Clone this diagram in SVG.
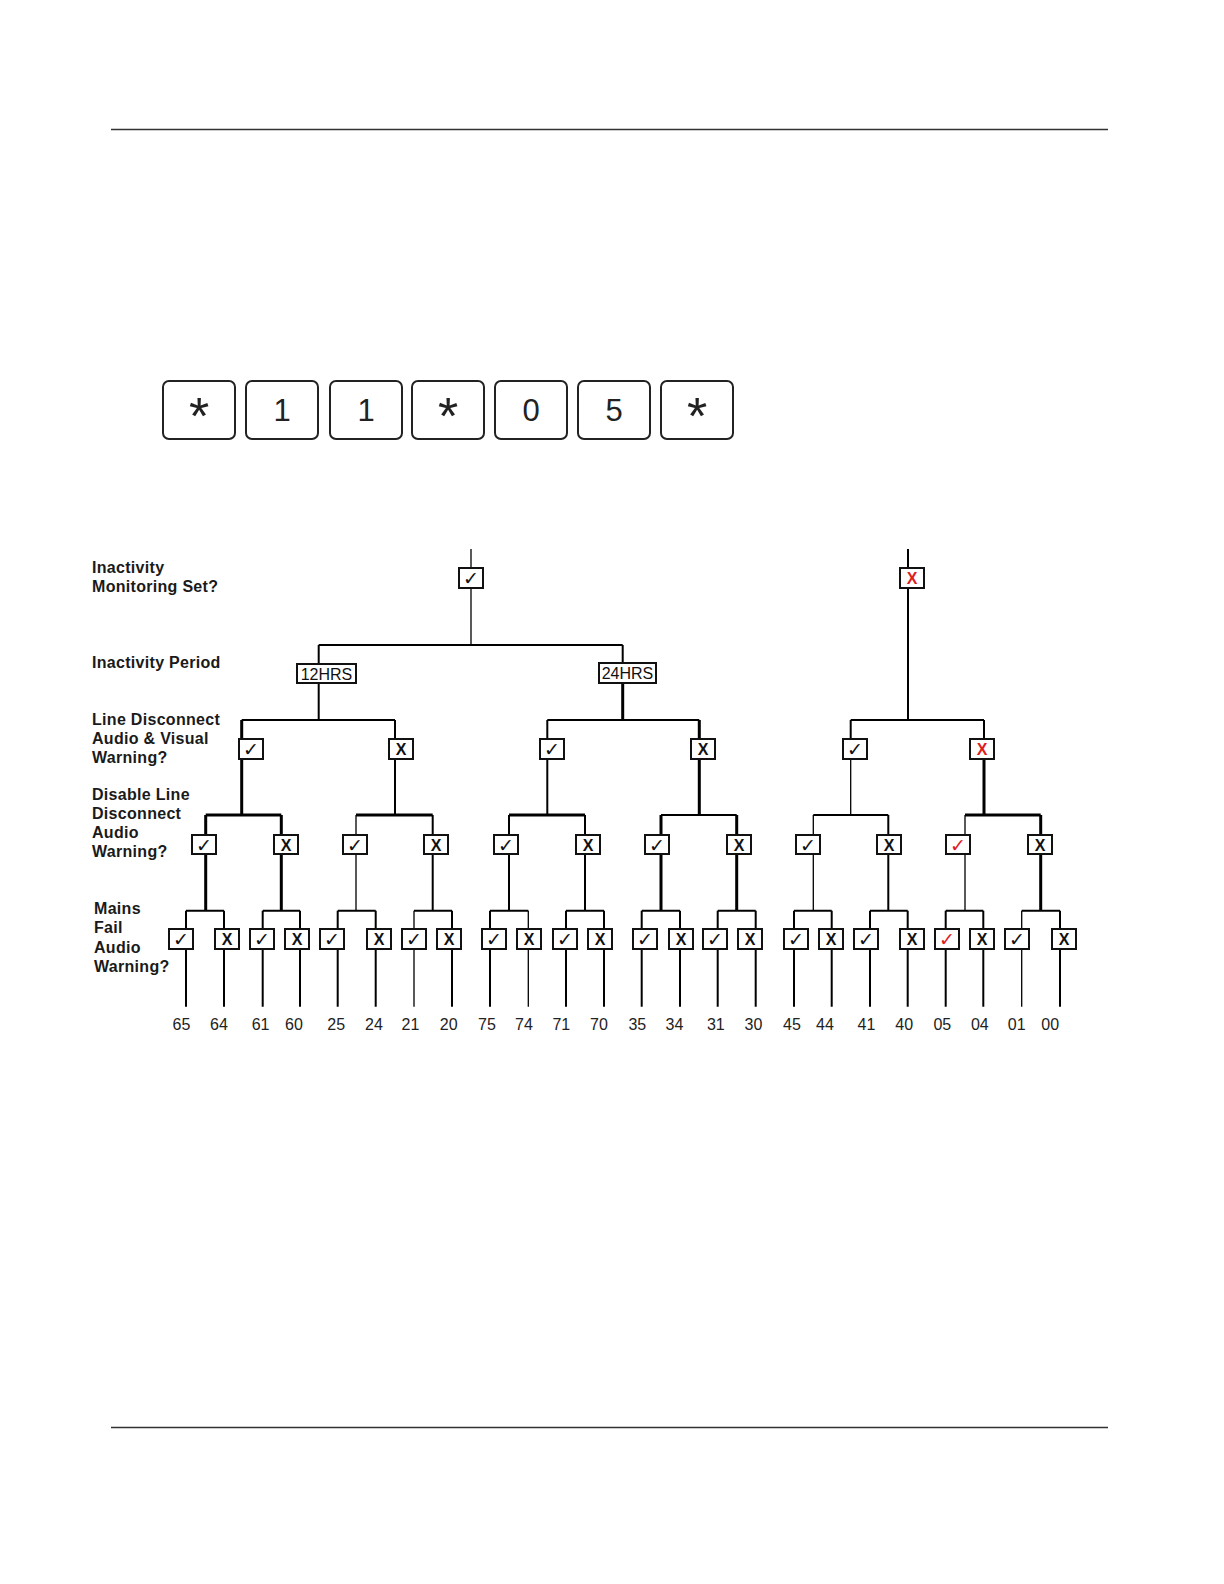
<svg xmlns="http://www.w3.org/2000/svg" width="1224" height="1584" viewBox="0 0 1224 1584">
<style>
.rule{stroke:#333;stroke-width:1.6;fill:none}
.key{fill:#fff;stroke:#222;stroke-width:2}
.kt{font-family:"Liberation Sans",Arial,sans-serif;font-size:31px;fill:#222;text-anchor:middle}
.ks{font-family:"Liberation Sans",Arial,sans-serif;font-size:52px;fill:#222;text-anchor:middle}
.box{fill:#fff;stroke:#111;stroke-width:2}
.ck{font-family:"DejaVu Sans",sans-serif;font-size:19px;fill:#111;text-anchor:middle}
.xx{font-family:"Liberation Sans",Arial,sans-serif;font-weight:bold;font-size:16px;fill:#111;text-anchor:middle}
.red{fill:#e01b22}
.hr{font-family:"Liberation Sans",Arial,sans-serif;font-size:16px;fill:#111;text-anchor:middle}
.lbl{font-family:"Liberation Sans",Arial,sans-serif;font-weight:bold;font-size:16px;fill:#1a1a1a;letter-spacing:0.3px}
.num{font-family:"Liberation Sans",Arial,sans-serif;font-size:16px;fill:#222;text-anchor:middle}
.n{stroke:#000;stroke-width:2;fill:none}
.t{stroke:#000;stroke-width:3;fill:none}
.h{stroke:#000;stroke-width:1.3;fill:none}
</style>

<line class="rule" x1="111" y1="129.5" x2="1108" y2="129.5"/>
<line class="rule" x1="111" y1="1427.5" x2="1108" y2="1427.5"/>

<g id="keypad">
<g id="key1"><rect class="key" x="163" y="381" width="72" height="58" rx="6"/><text class="ks" x="199" y="434">*</text></g>
<g id="key2"><rect class="key" x="246" y="381" width="72" height="58" rx="6"/><text class="kt" x="282" y="421">1</text></g>
<g id="key3"><rect class="key" x="330" y="381" width="72" height="58" rx="6"/><text class="kt" x="366" y="421">1</text></g>
<g id="key4"><rect class="key" x="412" y="381" width="72" height="58" rx="6"/><text class="ks" x="448" y="434">*</text></g>
<g id="key5"><rect class="key" x="495" y="381" width="72" height="58" rx="6"/><text class="kt" x="531" y="421">0</text></g>
<g id="key6"><rect class="key" x="578" y="381" width="72" height="58" rx="6"/><text class="kt" x="614" y="421">5</text></g>
<g id="key7"><rect class="key" x="661" y="381" width="72" height="58" rx="6"/><text class="ks" x="697" y="434">*</text></g>
</g>

<g id="row-labels">
<text class="lbl" x="92" y="573">Inactivity</text>
<text class="lbl" x="92" y="592">Monitoring Set?</text>
<text class="lbl" x="92" y="668">Inactivity Period</text>
<text class="lbl" x="92" y="725">Line Disconnect</text>
<text class="lbl" x="92" y="744">Audio &amp; Visual</text>
<text class="lbl" x="92" y="763">Warning?</text>
<text class="lbl" x="92" y="800">Disable Line</text>
<text class="lbl" x="92" y="819">Disconnect</text>
<text class="lbl" x="92" y="838">Audio</text>
<text class="lbl" x="92" y="857">Warning?</text>
<text class="lbl" x="94" y="914">Mains</text>
<text class="lbl" x="94" y="933">Fail</text>
<text class="lbl" x="94" y="953">Audio</text>
<text class="lbl" x="94" y="972">Warning?</text>
</g>

<g id="connectors">
<path class="h" d="M471 549V645"/>
<path class="n" d="M318.7 645H622.7M318.7 645V720M622.7 645V683"/>
<path class="t" d="M622.7 683V720"/>
<path class="n" d="M241.7 720H395M547.3 720H699.3"/>
<path class="n" d="M908 549V720M850.7 720H984"/>
<path class="t" d="M241.7 720V815M699.3 720V815M984 759V815"/>
<path class="n" d="M395 720V815M547.3 720V815M984 720V759M850.7 720V759"/>
<path class="h" d="M850.7 759V815"/>
<path class="t" d="M205.7 815H281.3M356 815H432.7M509 815H585M965 815H1040.7"/>
<path class="n" d="M661 815H736.7M813.3 815H888.3"/>
<path class="t" d="M205.7 815V910.7M281.3 815V910.7M661 815V910.7M736.7 815V910.7M1040.7 815V910.7"/>
<path class="n" d="M432.7 815V910.7M509 815V910.7M585 815V910.7M888.3 815V910.7"/>
<path class="h" d="M356 815V910.7M813.3 815V910.7M965 815V910.7"/>
<path class="n" d="M186 910.7H224M262.7 910.7H300M337.7 910.7H375.7M414 910.7H452M490 910.7H528.3M566 910.7H604M641.7 910.7H680M717.7 910.7H755.7M794 910.7H831.7M870 910.7H907.7M945.7 910.7H983.3M1021.7 910.7H1060"/>
<path class="n" d="M186 910.7V1006.7M224 910.7V1006.7M262.7 910.7V1006.7M300 910.7V1006.7M337.7 910.7V1006.7M375.7 910.7V1006.7M452 910.7V1006.7M490 910.7V1006.7M566 910.7V1006.7M604 910.7V1006.7M641.7 910.7V1006.7M680 910.7V1006.7M717.7 910.7V1006.7M755.7 910.7V1006.7M794 910.7V1006.7M831.7 910.7V1006.7M870 910.7V1006.7M907.7 910.7V1006.7M945.7 910.7V1006.7M983.3 910.7V1006.7M1060 910.7V1006.7"/>
<path class="h" d="M414 910.7V1006.7M528.3 910.7V1006.7M1021.7 910.7V1006.7"/>
</g>

<g id="level0">
<g id="mon-yes"><rect class="box" x="459" y="568" width="24" height="20"/><text class="ck" x="471" y="585">✓</text></g>
<g id="mon-no"><rect class="box" x="900" y="568" width="24" height="20"/><text class="xx red" x="912" y="584">X</text></g>
</g>

<g id="level1">
<g id="p12"><rect class="box" x="297" y="664" width="59" height="19"/><text class="hr" x="326.5" y="679.5">12HRS</text></g>
<g id="p24"><rect class="box" x="599" y="663" width="57" height="20"/><text class="hr" x="627.5" y="679">24HRS</text></g>
</g>

<g id="level2">
<g id="l2a"><rect class="box" x="239" y="739" width="24" height="20"/><text class="ck" x="251" y="756">✓</text></g>
<g id="l2b"><rect class="box" x="389" y="739" width="24" height="20"/><text class="xx" x="401" y="755">X</text></g>
<g id="l2c"><rect class="box" x="540" y="739" width="24" height="20"/><text class="ck" x="552" y="756">✓</text></g>
<g id="l2d"><rect class="box" x="691" y="739" width="24" height="20"/><text class="xx" x="703" y="755">X</text></g>
<g id="l2e"><rect class="box" x="843" y="739" width="24" height="20"/><text class="ck" x="855" y="756">✓</text></g>
<g id="l2f"><rect class="box" x="970" y="739" width="24" height="20"/><text class="xx red" x="982" y="755">X</text></g>
</g>

<g id="level3">
<g id="l3a"><rect class="box" x="192" y="835" width="24" height="19"/><text class="ck" x="204" y="851.5">✓</text></g>
<g id="l3b"><rect class="box" x="274" y="835" width="24" height="19"/><text class="xx" x="286" y="850.5">X</text></g>
<g id="l3c"><rect class="box" x="343" y="835" width="24" height="19"/><text class="ck" x="355" y="851.5">✓</text></g>
<g id="l3d"><rect class="box" x="424" y="835" width="24" height="19"/><text class="xx" x="436" y="850.5">X</text></g>
<g id="l3e"><rect class="box" x="494" y="835" width="24" height="19"/><text class="ck" x="506" y="851.5">✓</text></g>
<g id="l3f"><rect class="box" x="576" y="835" width="24" height="19"/><text class="xx" x="588" y="850.5">X</text></g>
<g id="l3g"><rect class="box" x="645" y="835" width="24" height="19"/><text class="ck" x="657" y="851.5">✓</text></g>
<g id="l3h"><rect class="box" x="727" y="835" width="24" height="19"/><text class="xx" x="739" y="850.5">X</text></g>
<g id="l3i"><rect class="box" x="796" y="835" width="24" height="19"/><text class="ck" x="808" y="851.5">✓</text></g>
<g id="l3j"><rect class="box" x="877" y="835" width="24" height="19"/><text class="xx" x="889" y="850.5">X</text></g>
<g id="l3k"><rect class="box" x="946" y="835" width="24" height="19"/><text class="ck red" x="958" y="851.5">✓</text></g>
<g id="l3l"><rect class="box" x="1028" y="835" width="24" height="19"/><text class="xx" x="1040" y="850.5">X</text></g>
</g>

<g id="level4">
<g id="c65"><rect class="box" x="169" y="929" width="24" height="20"/><text class="ck" x="181" y="946">✓</text></g>
<g id="c64"><rect class="box" x="215" y="929" width="24" height="20"/><text class="xx" x="227" y="945">X</text></g>
<g id="c61"><rect class="box" x="250" y="929" width="24" height="20"/><text class="ck" x="262" y="946">✓</text></g>
<g id="c60"><rect class="box" x="285" y="929" width="24" height="20"/><text class="xx" x="297" y="945">X</text></g>
<g id="c25"><rect class="box" x="320" y="929" width="24" height="20"/><text class="ck" x="332" y="946">✓</text></g>
<g id="c24"><rect class="box" x="367" y="929" width="24" height="20"/><text class="xx" x="379" y="945">X</text></g>
<g id="c21"><rect class="box" x="402" y="929" width="24" height="20"/><text class="ck" x="414" y="946">✓</text></g>
<g id="c20"><rect class="box" x="437" y="929" width="24" height="20"/><text class="xx" x="449" y="945">X</text></g>
<g id="c75"><rect class="box" x="482" y="929" width="24" height="20"/><text class="ck" x="494" y="946">✓</text></g>
<g id="c74"><rect class="box" x="517" y="929" width="24" height="20"/><text class="xx" x="529" y="945">X</text></g>
<g id="c71"><rect class="box" x="553" y="929" width="24" height="20"/><text class="ck" x="565" y="946">✓</text></g>
<g id="c70"><rect class="box" x="588" y="929" width="24" height="20"/><text class="xx" x="600" y="945">X</text></g>
<g id="c35"><rect class="box" x="633" y="929" width="24" height="20"/><text class="ck" x="645" y="946">✓</text></g>
<g id="c34"><rect class="box" x="669" y="929" width="24" height="20"/><text class="xx" x="681" y="945">X</text></g>
<g id="c31"><rect class="box" x="703" y="929" width="24" height="20"/><text class="ck" x="715" y="946">✓</text></g>
<g id="c30"><rect class="box" x="738" y="929" width="24" height="20"/><text class="xx" x="750" y="945">X</text></g>
<g id="c45"><rect class="box" x="784" y="929" width="24" height="20"/><text class="ck" x="796" y="946">✓</text></g>
<g id="c44"><rect class="box" x="819" y="929" width="24" height="20"/><text class="xx" x="831" y="945">X</text></g>
<g id="c41"><rect class="box" x="854" y="929" width="24" height="20"/><text class="ck" x="866" y="946">✓</text></g>
<g id="c40"><rect class="box" x="900" y="929" width="24" height="20"/><text class="xx" x="912" y="945">X</text></g>
<g id="c05"><rect class="box" x="935" y="929" width="24" height="20"/><text class="ck red" x="947" y="946">✓</text></g>
<g id="c04"><rect class="box" x="970" y="929" width="24" height="20"/><text class="xx" x="982" y="945">X</text></g>
<g id="c01"><rect class="box" x="1005" y="929" width="24" height="20"/><text class="ck" x="1017" y="946">✓</text></g>
<g id="c00"><rect class="box" x="1052" y="929" width="24" height="20"/><text class="xx" x="1064" y="945">X</text></g>
</g>

<g id="codes">
<text class="num" x="181.5" y="1030">65</text>
<text class="num" x="219" y="1030">64</text>
<text class="num" x="260.6" y="1030">61</text>
<text class="num" x="294" y="1030">60</text>
<text class="num" x="336.2" y="1030">25</text>
<text class="num" x="374" y="1030">24</text>
<text class="num" x="410.5" y="1030">21</text>
<text class="num" x="448.7" y="1030">20</text>
<text class="num" x="487" y="1030">75</text>
<text class="num" x="524" y="1030">74</text>
<text class="num" x="561.3" y="1030">71</text>
<text class="num" x="599" y="1030">70</text>
<text class="num" x="637.3" y="1030">35</text>
<text class="num" x="674.5" y="1030">34</text>
<text class="num" x="715.8" y="1030">31</text>
<text class="num" x="753.5" y="1030">30</text>
<text class="num" x="792" y="1030">45</text>
<text class="num" x="825" y="1030">44</text>
<text class="num" x="866.5" y="1030">41</text>
<text class="num" x="904.2" y="1030">40</text>
<text class="num red" x="942.3" y="1030">05</text>
<text class="num" x="979.8" y="1030">04</text>
<text class="num" x="1016.7" y="1030">01</text>
<text class="num" x="1050.2" y="1030">00</text>
</g>
</svg>
